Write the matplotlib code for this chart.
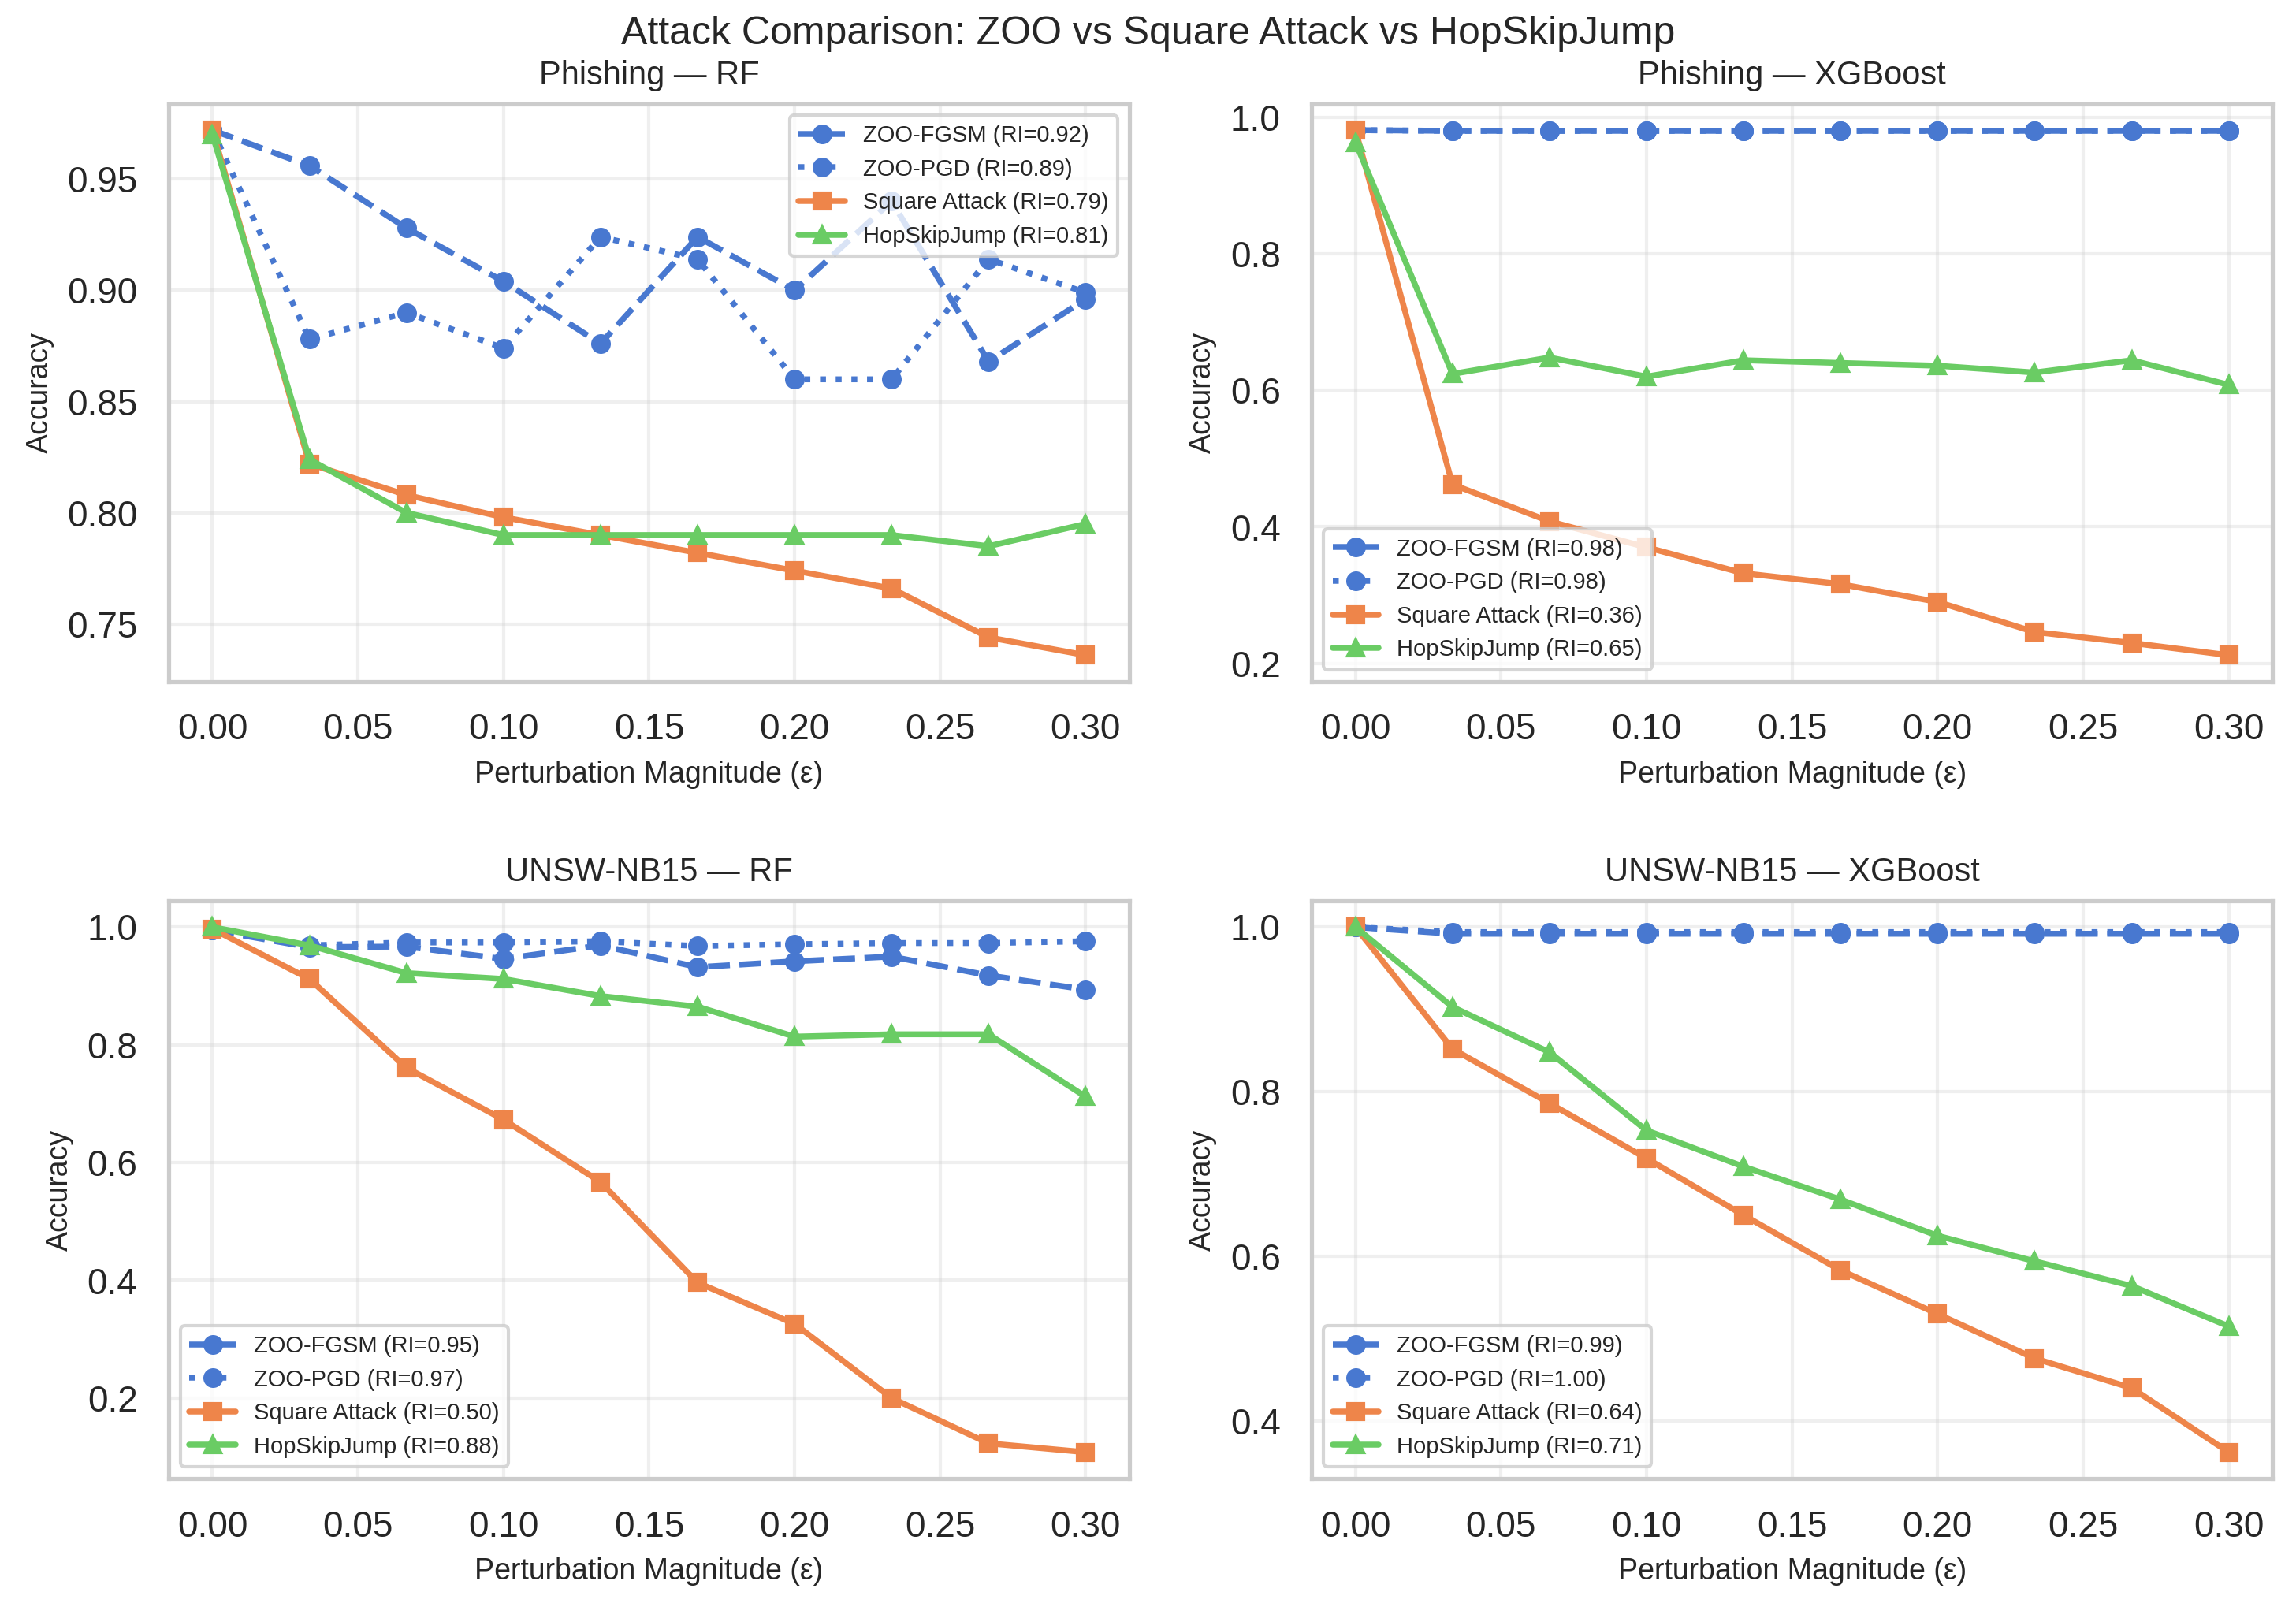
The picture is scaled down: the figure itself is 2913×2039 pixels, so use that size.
import numpy as np
import matplotlib
matplotlib.use("Agg")
import matplotlib.pyplot as plt
import seaborn as sns

sns.set_theme(style="whitegrid", palette="muted")
plt.rcParams['font.family'] = ['Liberation Sans', 'DejaVu Sans']

eps = np.linspace(0.0, 0.3, 10)

# Phishing - RF
ph_rf_fgsm = [0.972, 0.956, 0.928, 0.904, 0.876, 0.924, 0.900, 0.940, 0.868, 0.896]
ph_rf_pgd = [0.972, 0.878, 0.890, 0.874, 0.924, 0.914, 0.860, 0.860, 0.914, 0.899]
ph_rf_square = [0.972, 0.822, 0.808, 0.798, 0.790, 0.782, 0.774, 0.766, 0.744, 0.736]
ph_rf_hsj = [0.970, 0.824, 0.800, 0.790, 0.790, 0.790, 0.790, 0.790, 0.785, 0.795]
ph_rf_ri = [0.92, 0.89, 0.79, 0.81]

# Phishing - XGBoost
ph_xgb_fgsm = [0.981, 0.980, 0.980, 0.980, 0.980, 0.980, 0.980, 0.980, 0.980, 0.980]
ph_xgb_pgd = [0.981, 0.980, 0.980, 0.980, 0.980, 0.980, 0.980, 0.980, 0.980, 0.980]
ph_xgb_square = [0.981, 0.462, 0.408, 0.370, 0.332, 0.316, 0.290, 0.246, 0.230, 0.212]
ph_xgb_hsj = [0.963, 0.624, 0.648, 0.620, 0.644, 0.640, 0.636, 0.626, 0.644, 0.608]
ph_xgb_ri = [0.98, 0.98, 0.36, 0.65]

# UNSW-NB15 - RF
un_rf_fgsm = [0.995, 0.966, 0.967, 0.946, 0.969, 0.932, 0.942, 0.950, 0.918, 0.894]
un_rf_pgd = [0.995, 0.969, 0.974, 0.974, 0.976, 0.968, 0.971, 0.973, 0.973, 0.976]
un_rf_square = [0.997, 0.912, 0.761, 0.673, 0.567, 0.396, 0.326, 0.200, 0.123, 0.108]
un_rf_hsj = [1.000, 0.969, 0.922, 0.912, 0.883, 0.865, 0.814, 0.818, 0.818, 0.712]
un_rf_ri = [0.95, 0.97, 0.50, 0.88]

# UNSW-NB15 - XGBoost
un_xgb_fgsm = [1.000, 0.992, 0.992, 0.992, 0.992, 0.992, 0.992, 0.992, 0.992, 0.992]
un_xgb_pgd = [1.000, 0.994, 0.994, 0.994, 0.994, 0.994, 0.994, 0.994, 0.994, 0.994]
un_xgb_square = [1.000, 0.852, 0.786, 0.719, 0.650, 0.583, 0.530, 0.476, 0.440, 0.362]
un_xgb_hsj = [1.000, 0.903, 0.848, 0.753, 0.709, 0.669, 0.625, 0.594, 0.564, 0.515]
un_xgb_ri = [0.99, 1.00, 0.64, 0.71]

titles = ["Phishing — RF", "Phishing — XGBoost", "UNSW-NB15 — RF", "UNSW-NB15 — XGBoost"]
panels = [
    (ph_rf_fgsm, ph_rf_pgd, ph_rf_square, ph_rf_hsj, ph_rf_ri),
    (ph_xgb_fgsm, ph_xgb_pgd, ph_xgb_square, ph_xgb_hsj, ph_xgb_ri),
    (un_rf_fgsm, un_rf_pgd, un_rf_square, un_rf_hsj, un_rf_ri),
    (un_xgb_fgsm, un_xgb_pgd, un_xgb_square, un_xgb_hsj, un_xgb_ri),
]
legend_locs = ["upper right", "lower left", "lower left", "lower left"]

colors = sns.color_palette("muted")
blue, orange, green = colors[0], colors[1], colors[2]

fig, axes = plt.subplots(2, 2, figsize=(9.71, 6.797), dpi=300)
fig.subplots_adjust(left=0.0735, right=0.9897, top=0.9353, bottom=0.080,
                    wspace=0.19, hspace=0.38)

for ax, title, data, loc in zip(axes.flat, titles, panels, legend_locs):
    fgsm, pgd, sq, hsj, ri = data
    ax.plot(eps, fgsm, '--', marker='o', color=blue, lw=1.8, ms=5,
            label=f"ZOO-FGSM (RI={ri[0]:.2f})")
    ax.plot(eps, pgd, ':', marker='o', color=blue, lw=1.8, ms=5,
            label=f"ZOO-PGD (RI={ri[1]:.2f})")
    ax.plot(eps, sq, '-', marker='s', color=orange, lw=1.8, ms=5,
            label=f"Square Attack (RI={ri[2]:.2f})")
    ax.plot(eps, hsj, '-', marker='^', color=green, lw=1.8, ms=5,
            label=f"HopSkipJump (RI={ri[3]:.2f})")
    ax.set_title(title, fontsize=10)
    ax.set_xlabel("Perturbation Magnitude (ε)", fontsize=9)
    ax.set_ylabel("Accuracy", fontsize=9)
    ax.grid(True, alpha=0.3)
    ax.legend(loc=loc, fontsize=7)

fig.suptitle("Attack Comparison: ZOO vs Square Attack vs HopSkipJump", fontsize=12, y=0.99)
fig.savefig("out.png", dpi=300)
